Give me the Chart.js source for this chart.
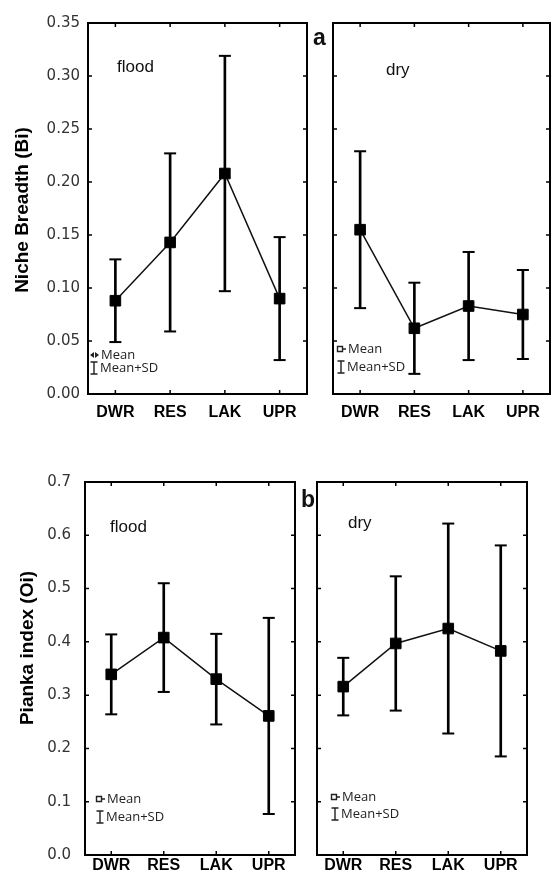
<!DOCTYPE html>
<html>
<head>
<meta charset="utf-8">
<script src="https://cdn.jsdelivr.net/npm/chart.js@4.4.1/dist/chart.umd.min.js"></script>
<style>
  body { margin: 0; background: #fff; }
  #wrap { position: relative; width: 552px; height: 876px; overflow: hidden; }
  canvas { position: absolute; }
</style>
</head>
<body>
<div id="wrap">
  <canvas id="bFlood" width="312" height="430" style="left:0;top:0"></canvas>
  <canvas id="bDry" width="244" height="430" style="left:308px;top:0"></canvas>
  <canvas id="oFlood" width="300" height="436" style="left:0;top:440px"></canvas>
  <canvas id="oDry" width="252" height="436" style="left:300px;top:440px"></canvas>
</div>
<script>
// sites along the river
const sites = ['DWR', 'RES', 'LAK', 'UPR'];

// Niche breadth (Bi)
const breadthFloodMean = [0.088, 0.143, 0.208, 0.090];
const breadthFloodSD   = [0.039, 0.084, 0.111, 0.058];
const breadthDryMean   = [0.155, 0.062, 0.083, 0.075];
const breadthDrySD     = [0.074, 0.043, 0.051, 0.042];

// Pianka index (Oi)
const piankaFloodMean = [0.339, 0.408, 0.330, 0.261];
const piankaFloodSD   = [0.075, 0.102, 0.085, 0.184];
const piankaDryMean   = [0.316, 0.397, 0.425, 0.383];
const piankaDrySD     = [0.054, 0.126, 0.197, 0.198];

// y axis ticks
const breadthTicks = { min: 0, max: 0.35, step: 0.05, digits: 2 };
const piankaTicks  = { min: 0, max: 0.7, step: 0.1, digits: 1 };

// draws the box, inward ticks, panel text and the small legend
const framePlugin = {
  id: 'frame',
  afterDraw(chart, args, o) {
    const ctx = chart.ctx;
    const a = chart.chartArea;
    const xs = chart.scales.x, ys = chart.scales.y;
    ctx.save();
    ctx.strokeStyle = '#000';
    ctx.lineWidth = 2;
    ctx.strokeRect(a.left, a.top, a.right - a.left, a.bottom - a.top);
    ctx.lineWidth = 1.5;
    ctx.beginPath();
    xs.ticks.forEach((t, i) => {
      const x = xs.getPixelForTick(i);
      ctx.moveTo(x, a.top); ctx.lineTo(x, a.top + 4);
      ctx.moveTo(x, a.bottom); ctx.lineTo(x, a.bottom - 4);
    });
    ys.ticks.forEach(t => {
      const y = ys.getPixelForValue(t.value);
      ctx.moveTo(a.left, y); ctx.lineTo(a.left + 4, y);
      ctx.moveTo(a.right, y); ctx.lineTo(a.right - 4, y);
    });
    ctx.stroke();

    ctx.fillStyle = '#111';
    ctx.textBaseline = 'alphabetic';
    ctx.textAlign = 'left';
    ctx.font = '17px "Liberation Sans", Arial';
    ctx.fillText(o.season, o.seasonPos[0], o.seasonPos[1]);

    if (o.letter) {
      ctx.font = 'bold 23px "Liberation Sans", Arial';
      ctx.textBaseline = 'middle';
      ctx.fillText(o.letter, o.letterPos[0], o.letterPos[1]);
    }

    if (o.yTitle) {
      ctx.save();
      ctx.translate(o.yTitlePos[0], o.yTitlePos[1]);
      ctx.rotate(-Math.PI / 2);
      ctx.textAlign = 'center';
      ctx.textBaseline = 'middle';
      ctx.font = 'bold 19px "Liberation Sans", Arial';
      ctx.fillStyle = '#000';
      ctx.fillText(o.yTitle, 0, 0);
      ctx.restore();
    }

    // legend
    const lg = o.legend;
    ctx.font = '13px "Open Sans", sans-serif';
    ctx.textBaseline = 'middle';
    ctx.fillStyle = '#222';
    ctx.fillText('Mean', lg.x + 11, lg.y1);
    ctx.fillText('Mean+SD', lg.x + 10, lg.y2);
    ctx.strokeStyle = '#222';
    ctx.lineWidth = 1.4;
    ctx.beginPath();
    if (lg.arrows) {
      ctx.fill(new Path2D(`M${lg.x} ${lg.y1} l4 -3 l0 6 z`));
      ctx.fill(new Path2D(`M${lg.x + 9} ${lg.y1} l-4 -3 l0 6 z`));
    } else {
      ctx.rect(lg.x + 0.5, lg.y1 - 2.5, 5, 5);
      ctx.moveTo(lg.x + 5.5, lg.y1); ctx.lineTo(lg.x + 9, lg.y1);
    }
    const ix = lg.x + 4;
    ctx.moveTo(ix, lg.y2 - 6); ctx.lineTo(ix, lg.y2 + 6);
    ctx.moveTo(ix - 3.5, lg.y2 - 6); ctx.lineTo(ix + 3.5, lg.y2 - 6);
    ctx.moveTo(ix - 3.5, lg.y2 + 6); ctx.lineTo(ix + 3.5, lg.y2 + 6);
    ctx.stroke();
    ctx.restore();
  }
};

function makePanel(id, mean, sd, tk, p) {
  const lo = mean.map((m, i) => m - sd[i]);
  const hi = mean.map((m, i) => m + sd[i]);
  const canvas = document.getElementById(id);
  return new Chart(canvas, {
    type: 'bar',
    data: {
      labels: sites,
      datasets: [
        {
          type: 'line',
          label: 'Mean',
          data: mean,
          borderColor: '#111',
          borderWidth: 1.5,
          pointStyle: 'rect',
          pointRadius: 7.5,
          pointBackgroundColor: '#000',
          pointBorderColor: '#000',
          pointBorderWidth: 1,
          order: 0
        },
        {
          type: 'line',
          label: 'SD top',
          data: hi,
          showLine: false,
          pointStyle: 'line',
          pointRadius: 6,
          pointBorderColor: '#000',
          pointBorderWidth: 2,
          order: 1
        },
        {
          type: 'line',
          label: 'SD bottom',
          data: lo,
          showLine: false,
          pointStyle: 'line',
          pointRadius: 6,
          pointBorderColor: '#000',
          pointBorderWidth: 2,
          order: 1
        },
        {
          label: 'Mean+SD',
          data: lo.map((v, i) => [v, hi[i]]),
          backgroundColor: '#000',
          barThickness: 2,
          order: 2
        }
      ]
    },
    options: {
      responsive: false,
      animation: false,
      events: [],
      layout: {
        autoPadding: false,
        padding: { top: p.top, right: p.right, left: 0, bottom: 0 }
      },
      scales: {
        x: {
          grid: { display: true, drawOnChartArea: false, drawTicks: true, tickLength: p.xPad, color: 'rgba(0,0,0,0)' },
          border: { display: false },
          ticks: {
            color: '#000',
            padding: 0,
            font: { family: '"Liberation Sans", Arial', size: 16, weight: 'bold' }
          },
          afterFit: s => { s.height = p.xHeight; s.paddingLeft = 0; s.paddingRight = 0; }
        },
        y: {
          min: tk.min,
          max: tk.max,
          grid: { display: false, drawTicks: false },
          border: { display: false },
          ticks: {
            display: p.showY,
            stepSize: tk.step,
            padding: p.yPad,
            color: '#333',
            font: { family: '"DejaVu Sans"', size: 15 },
            callback: v => v.toFixed(tk.digits)
          },
          afterFit: s => { s.width = p.yWidth; s.paddingTop = 0; s.paddingBottom = 0; }
        }
      },
      plugins: {
        legend: { display: false },
        tooltip: { enabled: false },
        frame: p.frame
      }
    },
    plugins: [framePlugin]
  });
}

makePanel('bFlood', breadthFloodMean, breadthFloodSD, breadthTicks, {
  top: 23, right: 5, yWidth: 88, xHeight: 36, xPad: 9, yPad: 8, showY: true,
  frame: {
    season: 'flood', seasonPos: [117, 72],
    yTitle: 'Niche Breadth (Bi)', yTitlePos: [23, 210],
    legend: { x: 90, y1: 355, y2: 368, arrows: true }
  }
});

makePanel('bDry', breadthDryMean, breadthDrySD, breadthTicks, {
  top: 23, right: 2, yWidth: 25, xHeight: 36, xPad: 9, yPad: 0, showY: false,
  frame: {
    season: 'dry', seasonPos: [78, 75],
    letter: 'a', letterPos: [5, 39],
    legend: { x: 29, y1: 349, y2: 367 }
  }
});

makePanel('oFlood', piankaFloodMean, piankaFloodSD, piankaTicks, {
  top: 42, right: 5, yWidth: 85, xHeight: 21, xPad: 1, yPad: 14, showY: true,
  frame: {
    season: 'flood', seasonPos: [110, 92],
    yTitle: 'Pianka index (Oi)', yTitlePos: [28, 208],
    legend: { x: 96, y1: 359, y2: 377 }
  }
});

makePanel('oDry', piankaDryMean, piankaDrySD, piankaTicks, {
  top: 42, right: 25, yWidth: 17, xHeight: 21, xPad: 1, yPad: 0, showY: false,
  frame: {
    season: 'dry', seasonPos: [48, 88],
    letter: 'b', letterPos: [1, 61],
    legend: { x: 31, y1: 357, y2: 374 }
  }
});
</script>
</body>
</html>
